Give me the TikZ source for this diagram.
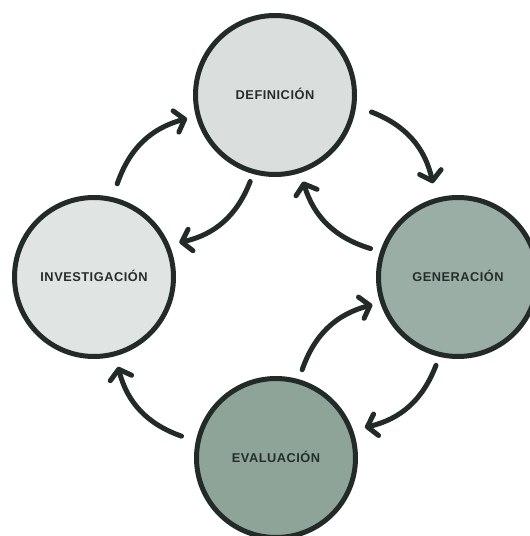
\documentclass[tikz,border=0pt]{standalone}
\usepackage{fontspec}
\setmainfont{Liberation Sans}
\newfontfamily\stagefont{Liberation Sans}[LetterSpace=4]
\usetikzlibrary{arrows.meta,calc}

\definecolor{ink}{RGB}{34,43,40}
\definecolor{labelink}{RGB}{38,46,44}
\definecolor{palegray}{RGB}{218,223,221}
\definecolor{lightgray}{RGB}{224,228,226}
\definecolor{sage}{RGB}{155,174,165}
\definecolor{deepsage}{RGB}{143,164,152}

\begin{document}
\begin{tikzpicture}[x=1pt,y=1pt,
  stage/.style={circle, draw=ink, line width=5pt, minimum size=159pt,
    inner sep=0pt, text=labelink, text height=9.2pt, text depth=0pt,
    font=\stagefont\bfseries\fontsize{12.8}{15}\selectfont},
  flow/.style={draw=ink, line width=5pt, line cap=round,
    -{Straight Barb[length=9pt,width=22pt,line cap=round,line join=round]}}]

\useasboundingbox (0,0) rectangle (530,536);
\clip (0,0) rectangle (530,536);

% the four stages of the cycle
\node[stage, fill=palegray]  (T) at (275,441) {DEFINICIÓN};
\node[stage, fill=lightgray] (L) at (94,259)  {INVESTIGACIÓN};
\node[stage, fill=sage]      (R) at (458,259) {GENERACIÓN};
\node[stage, fill=deepsage]  (B) at (276,78)  {EVALUACIÓN};

% end points of the connectors, set just outside the circles
\coordinate (lt1) at ($(L)+(76:96pt)$);
\coordinate (lt2) at ($(T)+(195:91pt)$);
\coordinate (tl1) at ($(T)+(254:90pt)$);
\coordinate (tl2) at ($(L)+(22:92pt)$);
\coordinate (tr1) at ($(T)+(-10:98pt)$);
\coordinate (tr2) at ($(R)+(105:97pt)$);
\coordinate (rt1) at ($(R)+(162:92pt)$);
\coordinate (rt2) at ($(T)+(-72:91pt)$);
\coordinate (br1) at ($(B)+(73.5:92pt)$);
\coordinate (br2) at ($(R)+(198:90pt)$);
\coordinate (rb1) at ($(R)+(256:91pt)$);
\coordinate (rb2) at ($(B)+(19:94pt)$);
\coordinate (bl1) at ($(B)+(167:97pt)$);
\coordinate (bl2) at ($(L)+(-75:93pt)$);

% curved connectors
\draw[flow] (lt1) to[bend left=28] (lt2);
\draw[flow] (tl1) to[bend left=28] (tl2);
\draw[flow] (tr1) to[bend left=28] (tr2);
\draw[flow] (rt1) to[bend left=28] (rt2);
\draw[flow] (br1) to[bend left=28] (br2);
\draw[flow] (rb1) to[bend left=28] (rb2);
\draw[flow] (bl1) to[bend left=28] (bl2);
\end{tikzpicture}
\end{document}
